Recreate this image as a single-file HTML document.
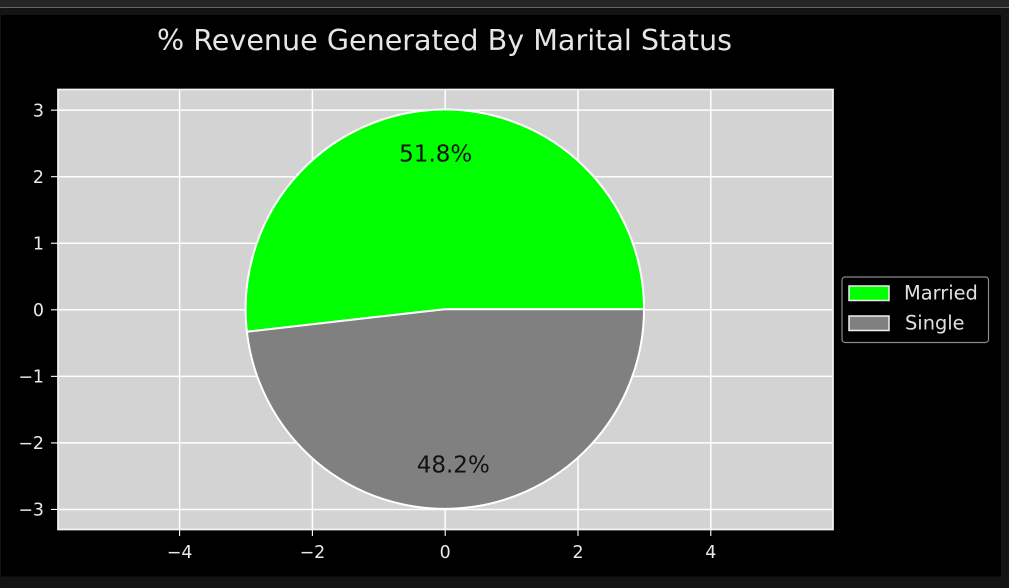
<!DOCTYPE html>
<html lang="en">
<head>
<meta charset="utf-8">
<title>% Revenue Generated By Marital Status</title>
<style>
html,body{margin:0;padding:0;background:#141414;}
body{width:1009px;height:588px;overflow:hidden;position:relative;}
#topbar{position:absolute;left:0;top:0;width:1009px;height:7px;background:#252525;border-bottom:1px solid #666;}
#chart{position:absolute;left:0;top:0;filter:blur(0.35px);}
text{font-family:"DejaVu Sans","Liberation Sans",sans-serif;}
</style>
</head>
<body>
<div id="topbar"></div>
<svg id="chart" width="1009" height="588" viewBox="0 0 1009 588">
  <rect x="1" y="15" width="1000" height="561.500" fill="#000"/>
  <text x="444.5" y="50" fill="#e6e6e6" font-size="28.6" text-anchor="middle">% Revenue Generated By Marital Status</text>
  <rect x="58" y="89.5" width="775" height="440" fill="#d3d3d3"/>
  <g id="grid"></g>
  <g id="slices" transform="translate(-0.4,-0.6)"></g>
  <rect x="58" y="89.5" width="775" height="440" fill="none" stroke="#f4f4f4" stroke-width="1.7"/>
  <g id="ticks"></g>
  <g id="labels"></g>
  <g>
    <rect x="842" y="277" width="146.500" height="65.500" rx="3" fill="#000" stroke="#8a8a8a" stroke-width="1.2"/>
    <g id="legend-items"></g>
  </g>
</svg>
<script>
const categories = ['Married', 'Single'];
const revenueShare = [51.8, 48.2];
const sliceColors = ['#00ff00', '#808080'];
const xTickValues = [-4, -2, 0, 2, 4];
const yTickValues = [-3, -2, -1, 0, 1, 2, 3];
const pieRadiusUnits = [3];

const NS = 'http://www.w3.org/2000/svg';
const xScale = v => 445.2 + v * 66.4;
const yScale = v => 309.8 - v * 66.55;

function make(tag, attrs, parent, text) {
  const el = document.createElementNS(NS, tag);
  for (const k in attrs) el.setAttribute(k, attrs[k]);
  if (text !== undefined) el.textContent = text;
  parent.appendChild(el);
  return el;
}
const fmt = v => (v < 0 ? '\u2212' + Math.abs(v) : String(v));

const grid = document.getElementById('grid');
const ticks = document.getElementById('ticks');
xTickValues.forEach(v => {
  const x = xScale(v);
  const g = make('line', {x1: x, x2: x, y1: 89.5, y2: 529.5, stroke: '#fff', 'stroke-width': 1.5}, grid);
  
  
  const t = make('line', {x1: x, x2: x, y1: 529.5, y2: 536, stroke: '#fff', 'stroke-width': 1.1}, ticks);
  
  
  const l = make('text', {x: x, y: 558, fill: '#e8e8e8', 'font-size': 17.4, 'text-anchor': 'middle'}, ticks, fmt(v));
  
  
});
yTickValues.forEach(v => {
  const y = yScale(v);
  const g = make('line', {x1: 58, x2: 833, y1: y, y2: y, stroke: '#fff', 'stroke-width': 1.5}, grid);
  
  
  const t = make('line', {x1: 51, x2: 58, y1: y, y2: y, stroke: '#fff', 'stroke-width': 1.1}, ticks);
  
  
  const l = make('text', {x: 44, y: y + 6.2, fill: '#e8e8e8', 'font-size': 17.4, 'text-anchor': 'end'}, ticks, fmt(v));
  
  
});

const total = revenueShare.reduce((a, b) => a + b, 0);
const slices = document.getElementById('slices');
const labels = document.getElementById('labels');
const radius = pieRadiusUnits[0];
let startFrac = 0;
revenueShare.forEach((val, i) => {
  const frac = val / total;
  const a0 = startFrac * 2 * Math.PI;
  const a1 = (startFrac + frac) * 2 * Math.PI;
  const px = (a, r) => xScale(r * Math.cos(a));
  const py = (a, r) => yScale(r * Math.sin(a));
  const rx = xScale(radius) - xScale(0);
  const ry = yScale(0) - yScale(radius);
  const d = 'M' + xScale(0) + ' ' + yScale(0) +
    ' L' + px(a0, radius) + ' ' + py(a0, radius) +
    ' A' + rx + ' ' + ry + ' 0 ' + (frac > 0.5 ? 1 : 0) + ' 0 ' + px(a1, radius) + ' ' + py(a1, radius) + ' Z';
  const s = make('path', {d: d, fill: sliceColors[i], stroke: '#fff', 'stroke-width': 2, 'stroke-linejoin': 'round'}, slices);
  
  
  const mid = (a0 + a1) / 2;
  const lab = make('text', {x: px(mid, radius * 0.78) - 0.7, y: py(mid, radius * 0.78) + 7, fill: '#111', 'font-size': 23, 'text-anchor': 'middle'}, labels, val.toFixed(1) + '%');
  
  

  const legendItems = document.getElementById('legend-items');
  const rowY = 286 + i * 30;
  const sw = make('rect', {x: 849, y: rowY, width: 40, height: 14.500, fill: sliceColors[i], stroke: '#efefef', 'stroke-width': 1.5}, legendItems);
  
  
  const lt = make('text', {x: 904 + i * 1, y: rowY + 13.500, fill: '#e0e0e0', 'font-size': 19.4}, legendItems, categories[i]);
  
  

  startFrac += frac;
});
</script>
</body>
</html>
